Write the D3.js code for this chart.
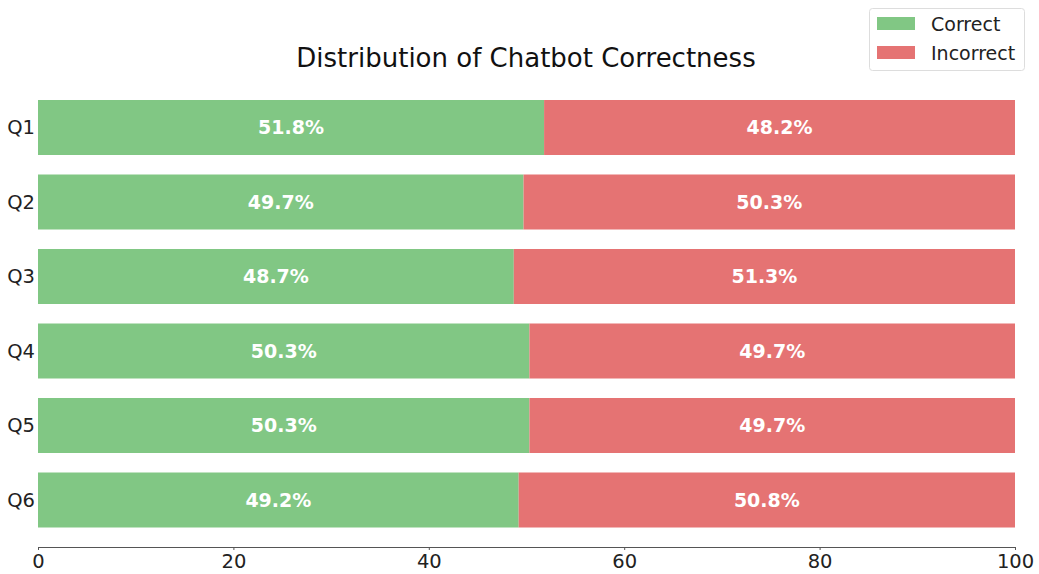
<!DOCTYPE html>
<html><head><meta charset="utf-8">
<script src="https://cdn.jsdelivr.net/npm/d3@7"></script>
<style>body{margin:0;background:#fff;} svg{display:block;font-family:"DejaVu Sans",sans-serif;}</style>
</head><body>
<svg id="c" width="1039" height="574"></svg>
<script>
const categories = ["Q1","Q2","Q3","Q4","Q5","Q6"];
const correct = [51.8, 49.7, 48.7, 50.3, 50.3, 49.2];
const incorrect = [48.2, 50.3, 51.3, 49.7, 49.7, 50.8];
const seriesNames = ["Correct","Incorrect"];
const colors = ["#81c784","#e57373"];
const xTicks = [0,20,40,60,80,100];

const svg = d3.select("#c");
const x = d3.scaleLinear().domain([0,100]).range([38,1015]);
const p = 1 - 55/74.5;
const y = d3.scaleBand().domain(categories).range([90.25,537.25]).paddingInner(p).paddingOuter(p/2);

const rows = categories.map((c,i)=>({cat:c, vals:[correct[i], incorrect[i]]}));
rows.forEach(r=>{
  let acc=0;
  r.vals.forEach((v,j)=>{
    const x0=acc; acc+=v;
    svg.append("rect").attr("x",x(x0)).attr("y",y(r.cat)).attr("width",x(acc)-x(x0)).attr("height",y.bandwidth()).attr("fill",colors[j]);
    svg.append("text").attr("x",(x(x0)+x(acc))/2).attr("y",y(r.cat)+y.bandwidth()/2).attr("dy","0.35em")
      .attr("text-anchor","middle").attr("fill","#fff").attr("font-weight","bold").attr("font-size",19)
      .text(v.toFixed(1)+"%");
  });
});

// y labels
svg.append("g").selectAll("text").data(categories).join("text")
  .attr("x",35).attr("y",d=>y(d)+y.bandwidth()/2).attr("dy","0.35em").attr("text-anchor","end")
  .attr("font-size",19.5).attr("fill","#222").text(d=>d);

// x axis
const ax = svg.append("g").attr("transform","translate(0,547)")
  .call(d3.axisBottom(x).tickValues(xTicks).tickSize(3).tickPadding(4));
ax.select(".domain").attr("stroke","#555");
ax.selectAll(".tick line").attr("stroke","#555");
ax.selectAll(".tick text").attr("font-size",19.5).attr("fill","#222").attr("font-family","DejaVu Sans");

// title
svg.append("text").attr("x",526).attr("y",67).attr("text-anchor","middle").attr("font-size",26).attr("fill","#111")
  .text("Distribution of Chatbot Correctness");

// legend
const lg = svg.append("g");
lg.append("rect").attr("x",869.5).attr("y",8.5).attr("width",155).attr("height",62).attr("rx",3)
  .attr("fill","#fff").attr("stroke","#ddd");
seriesNames.forEach((s,i)=>{
  lg.append("rect").attr("x",877).attr("y",17+i*29).attr("width",38).attr("height",13).attr("fill",colors[i]);
  lg.append("text").attr("x",931).attr("y",24+i*29).attr("dy","0.35em").attr("font-size",19).attr("fill","#222").text(s);
});
</script>
</body></html>
